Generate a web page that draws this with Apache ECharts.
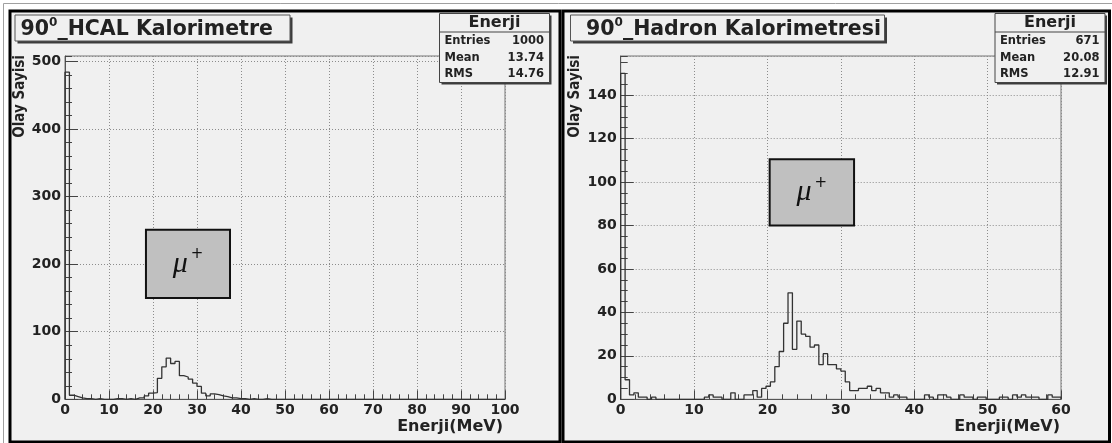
<!DOCTYPE html>
<html><head><meta charset="utf-8">
<script src="https://cdn.jsdelivr.net/npm/echarts@6/dist/echarts.min.js"></script>
<style>html,body{margin:0;padding:0;background:#fff;}#c{width:1112px;height:443px;}</style>
</head><body><div id="c"></div>
<script>
// ---- data ----
const leftRange = [0, 100];          // MeV, 100 bins of 1 MeV
const leftCounts = [
  484,6,4,2,1,1,0,1,0,0,
  0,1,1,0,1,0,2,2,5,9,
  10,31,48,61,53,56,35,33,30,24,
  19,9,5,8,7,5,4,2,2,1,
  1,0,1,0,0,1,0,0,0,0,
  0,0,0,0,0,0,0,0,0,0,
  0,0,0,0,0,0,0,0,0,0,
  0,0,0,0,0,0,0,0,0,0,
  0,0,0,0,0,0,0,0,0,0,
  0,0,0,0,0,0,0,0,0,0
];
const rightRange = [0, 60];          // MeV, 100 bins of 0.6 MeV
const rightCounts = [
  150,9,2,3,1,1,0,1,0,0,
  0,0,0,0,0,0,0,0,0,1,
  2,1,1,0,0,3,0,0,2,2,
  4,1,5,6,8,15,22,35,49,23,
  36,30,29,24,25,16,21,16,16,14,
  13,8,4,4,5,5,6,4,5,3,
  3,1,2,1,1,0,0,0,0,2,
  1,0,2,2,1,0,0,2,1,1,
  0,1,1,0,0,0,1,1,0,2,
  1,2,1,1,1,0,0,2,1,1
];
const leftYMax = 508;
const rightYMax = 158;
const leftXInterval = 10, leftYInterval = 100, leftYMinor = 20;
const rightXInterval = 10, rightYInterval = 20, rightYMinor = 5;
const statLabels = ['Entries', 'Mean', 'RMS'];
const leftStatValues = ['1000', '13.74', '14.76'];
const rightStatValues = ['671', '20.08', '12.91'];
const statTitle = 'Enerji';
const leftTitle = ['90', '0', '_HCAL Kalorimetre'];
const rightTitle = ['90', '0', '_Hadron Kalorimetresi'];
const xTitle = 'Enerji(MeV)';
const yTitle = 'Olay Sayisi';
const leftMuBox = [[18.4, 150], [37.5, 251]];
const rightMuBox = [[20.3, 80], [31.8, 110.5]];

// ---- helpers ----
const FONT = 'DejaVu Sans';
const TXT = '#222';
function stepData(counts, range) {
  const w = (range[1] - range[0]) / counts.length;
  const pts = [[range[0], 0]];
  counts.forEach((v, k) => pts.push([range[0] + k * w, v]));
  pts.push([range[1], counts[counts.length - 1]]);
  pts.push([range[1], 0]);
  return pts;
}
const labelStyle = {show: true, color: TXT, fontFamily: FONT, fontWeight: 'bold', fontSize: 14};
const gridLine = {show: true, lineStyle: {color: '#8c8c8c', width: 1, type: [1, 2]}};
function xAxisCfg(gi, range, interval) {
  return {type: 'value', gridIndex: gi, min: range[0], max: range[1], interval: interval,
    axisLine: {show: true, onZero: false, lineStyle: {color: '#555', width: 1}},
    axisTick: {show: true, inside: true, length: 9, lineStyle: {color: '#444', width: 1}},
    minorTick: {show: true, splitNumber: 5, length: 5, lineStyle: {color: '#444', width: 1}},
    splitLine: gridLine,
    axisLabel: Object.assign({margin: 4, showMinLabel: true, showMaxLabel: true}, labelStyle)};
}
function yAxisMain(gi, max, interval) {
  return {type: 'value', gridIndex: gi, position: 'left', min: 0, max: max, interval: interval,
    axisLine: {show: true, onZero: false, lineStyle: {color: '#555', width: 1}},
    axisTick: {show: true, inside: true, length: 13, lineStyle: {color: '#444', width: 1}},
    splitLine: gridLine,
    axisLabel: Object.assign({margin: 4, showMinLabel: true, showMaxLabel: false}, labelStyle)};
}
function yAxisMinor(gi, max, interval) {
  return {type: 'value', gridIndex: gi, position: 'left', min: 0, max: max, interval: interval,
    axisLine: {show: false}, splitLine: {show: false}, axisLabel: {show: false},
    axisTick: {show: true, inside: true, length: 7, lineStyle: {color: '#444', width: 1}}};
}
function muArea(box) {
  return {silent: true,
    itemStyle: {color: '#c0c0c0', opacity: 1, borderColor: '#111', borderWidth: 2},
    label: {show: true, position: 'inside', formatter: '{mu|\u03bc}{sup|+}',
      rich: {
        mu: {fontFamily: 'Liberation Serif', fontStyle: 'italic', fontSize: 30, color: '#111', lineHeight: 34},
        sup: {fontFamily: FONT, fontSize: 15, color: '#111', verticalAlign: 'top', lineHeight: 18, padding: [0, 0, 0, 3]}
      }},
    data: [[{coord: box[0]}, {coord: box[1]}]]};
}
function titleBox(x, y, w, h, textX, parts) {
  return [
    {type: 'rect', z: 99, silent: true, shape: {x: x + 2.5, y: y + 2.5, width: w, height: h}, style: {fill: '#3c3c3c'}},
    {type: 'rect', z: 100, silent: true, shape: {x: x, y: y, width: w, height: h}, style: {fill: '#f0f0f0', stroke: '#555', lineWidth: 1}},
    {type: 'text', z: 101, silent: true, x: textX, y: y + h / 2 + 0.5,
      style: {text: '{n|' + parts[0] + '}{s|' + parts[1] + '}{n|' + parts[2] + '}',
        verticalAlign: 'middle', textVerticalAlign: 'middle', align: 'left', textAlign: 'left',
        rich: {
          n: {fontFamily: FONT, fontWeight: 'bold', fontSize: 20.5, fill: TXT, color: TXT, lineHeight: 24, verticalAlign: 'bottom'},
          s: {fontFamily: FONT, fontWeight: 'bold', fontSize: 12, fill: TXT, color: TXT, lineHeight: 24, verticalAlign: 'top', padding: [0, 0, 8, 0]}
        }}}
  ];
}
function statBox(x, y, values) {
  const w = 110, h = 69;
  const els = [
    {type: 'rect', z: 99, silent: true, shape: {x: x + 2, y: y + 2, width: w, height: h}, style: {fill: '#3c3c3c'}},
    {type: 'rect', z: 100, silent: true, shape: {x: x, y: y, width: w, height: h}, style: {fill: '#f0f0f0', stroke: '#444', lineWidth: 1}},
    {type: 'line', z: 101, silent: true, shape: {x1: x, y1: y + 18.5, x2: x + w, y2: y + 18.5}, style: {stroke: '#444', lineWidth: 1}},
    {type: 'text', z: 101, silent: true, x: x + w / 2, y: y + 9.5,
      style: {text: statTitle, fontFamily: FONT, fontWeight: 'bold', fontSize: 16, fill: TXT,
        align: 'center', textAlign: 'center', verticalAlign: 'middle', textVerticalAlign: 'middle'}}
  ];
  statLabels.forEach((lab, i) => {
    const yy = y + 27.5 + i * 16.7;
    els.push({type: 'text', z: 101, silent: true, x: x + 5, y: yy,
      style: {text: lab, fontFamily: FONT, fontWeight: 'bold', fontSize: 11.5, fill: TXT,
        align: 'left', textAlign: 'left', verticalAlign: 'middle', textVerticalAlign: 'middle'}});
    els.push({type: 'text', z: 101, silent: true, x: x + w - 5.5, y: yy,
      style: {text: values[i], fontFamily: FONT, fontWeight: 'bold', fontSize: 11.5, fill: TXT,
        align: 'right', textAlign: 'right', verticalAlign: 'middle', textVerticalAlign: 'middle'}});
  });
  return els;
}
function axisTitles(yx, yTop, xRight, xY) {
  return [
    {type: 'text', z: 50, silent: true, x: yx, y: yTop, rotation: Math.PI / 2, scaleY: 1.15,
      style: {text: yTitle, fontFamily: FONT, fontWeight: 'bold', fontSize: 13.5, fill: TXT,
        align: 'right', textAlign: 'right', verticalAlign: 'middle', textVerticalAlign: 'middle'}},
    {type: 'text', z: 50, silent: true, x: xRight, y: xY,
      style: {text: xTitle, fontFamily: FONT, fontWeight: 'bold', fontSize: 16, fill: TXT,
        align: 'right', textAlign: 'right', verticalAlign: 'middle', textVerticalAlign: 'middle'}}
  ];
}

const graphics = [].concat(
  [{type: 'rect', z: -20, silent: true, shape: {x: 3.5, y: 3.5, width: 1130, height: 460}, style: {fill: '#fff', stroke: '#a0a0a0', lineWidth: 1}},
   {type: 'rect', z: -10, silent: true, shape: {x: 10, y: 11, width: 550, height: 431}, style: {fill: '#f0f0f0', stroke: '#000', lineWidth: 3}},
   {type: 'rect', z: -10, silent: true, shape: {x: 563, y: 11, width: 546.5, height: 431}, style: {fill: '#f0f0f0', stroke: '#000', lineWidth: 3}}],
  titleBox(15, 15, 275, 26, 20.5, leftTitle),
  titleBox(570.5, 15, 314, 26, 586, rightTitle),
  statBox(439.5, 13.5, leftStatValues),
  statBox(995, 13.5, rightStatValues),
  axisTitles(20, 55, 503, 426.5),
  axisTitles(575, 55, 1060, 426.5)
);

const chart = echarts.init(document.getElementById('c'), null, {renderer: 'canvas'});
chart.setOption({
  animation: false,
  backgroundColor: 'transparent',
  grid: [
    {left: 65, top: 56, width: 440, height: 343.3, show: true, borderColor: '#777', borderWidth: 1, backgroundColor: 'transparent', containLabel: false, outerBoundsMode: 'none'},
    {left: 620.7, top: 56, width: 440.3, height: 343.3, show: true, borderColor: '#777', borderWidth: 1, backgroundColor: 'transparent', containLabel: false, outerBoundsMode: 'none'}
  ],
  xAxis: [xAxisCfg(0, leftRange, leftXInterval), xAxisCfg(1, rightRange, rightXInterval)],
  yAxis: [yAxisMain(0, leftYMax, leftYInterval), yAxisMinor(0, leftYMax, leftYMinor),
          yAxisMain(1, rightYMax, rightYInterval), yAxisMinor(1, rightYMax, rightYMinor)],
  series: [
    {type: 'line', name: 'left', xAxisIndex: 0, yAxisIndex: 0, step: 'end', showSymbol: false, symbol: 'none',
      lineStyle: {color: '#333', width: 1.3}, data: stepData(leftCounts, leftRange), markArea: muArea(leftMuBox), z: 3},
    {type: 'line', name: 'right', xAxisIndex: 1, yAxisIndex: 2, step: 'end', showSymbol: false, symbol: 'none',
      lineStyle: {color: '#333', width: 1.3}, data: stepData(rightCounts, rightRange), markArea: muArea(rightMuBox), z: 3}
  ],
  graphic: graphics
});
</script></body></html>
